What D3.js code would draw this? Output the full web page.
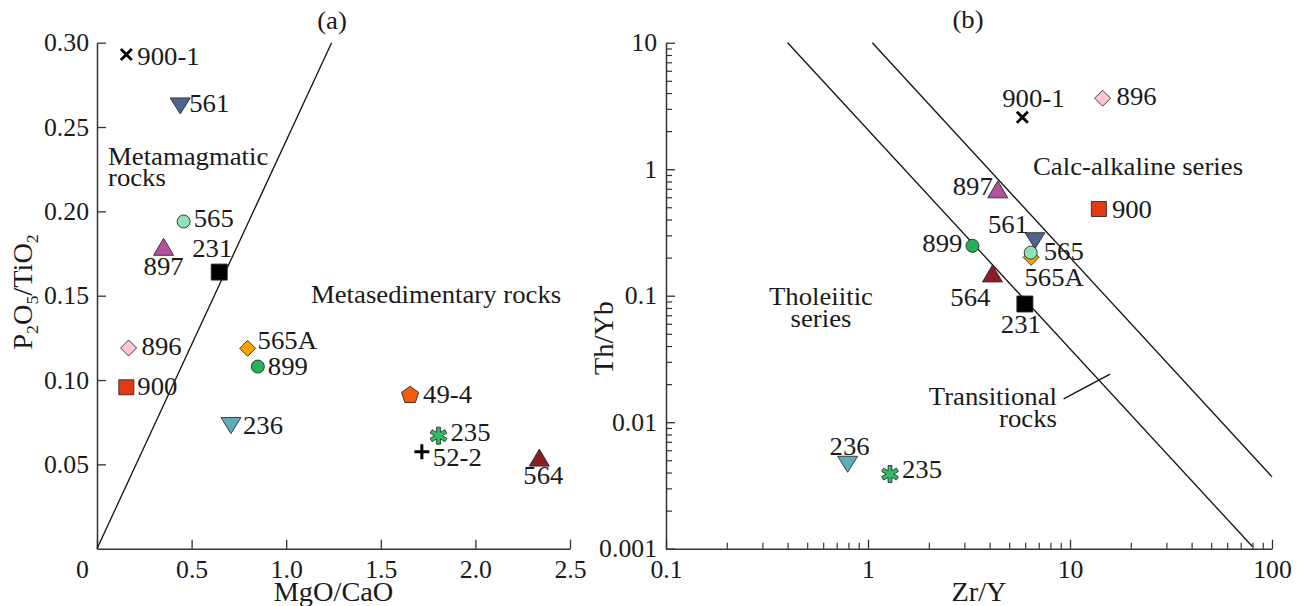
<!DOCTYPE html>
<html>
<head>
<meta charset="utf-8">
<script src="https://cdn.jsdelivr.net/npm/d3@7"></script>
<style>
  body { margin: 0; background: #fff; }
  svg { display: block; }
  text { font-family: "Liberation Serif", "Times New Roman", serif; fill: #1a1a1a; }
</style>
</head>
<body>
<svg id="chart" width="1299" height="606"></svg>
<script>
// ---- Samples and measured ratios ----
const samples  = ["900-1", "561", "565A", "565", "897", "231", "896", "900", "899", "236", "49-4", "235", "52-2", "564"];
// (a) MgO/CaO vs P2O5/TiO2
const mgoCao   = [0.155, 0.440, 0.796, 0.458, 0.352, 0.646, 0.167, 0.155, 0.850, 0.708, 1.655, 1.805, 1.717, 2.338];
const p2o5Tio2 = [0.293, 0.2625, 0.1188, 0.194, 0.179, 0.164, 0.119, 0.0957, 0.108, 0.073, 0.091, 0.067, 0.0575, 0.054];
// (b) Zr/Y vs Th/Yb (no data for 49-4 and 52-2)
const zrY      = [5.81, 6.71, 6.42, 6.39, 4.39, 5.98, 14.5, 13.9, 3.29, 0.793, null, 1.285, null, 4.13];
const thYb     = [2.57, 0.272, 0.201, 0.219, 0.693, 0.086, 3.64, 0.4845, 0.248, 0.00465, null, 0.00389, null, 0.150];

// Axis ticks
const xTicksA = [0, 0.5, 1.0, 1.5, 2.0, 2.5];
const xTickLabelsA = ["0", "0.5", "1.0", "1.5", "2.0", "2.5"];
const yTicksA = [0.05, 0.10, 0.15, 0.20, 0.25, 0.30];
const yTickLabelsA = ["0.05", "0.10", "0.15", "0.20", "0.25", "0.30"];
const xTicksB = [0.1, 1, 10, 100];
const xTickLabelsB = ["0.1", "1", "10", "100"];
const yTicksB = [0.001, 0.01, 0.1, 1, 10];
const yTickLabelsB = ["0.001", "0.01", "0.1", "1", "10"];

// Discrimination boundaries
const boundaryA  = [[0, 0], [1.24, 0.30]];
const boundaryB1 = [[0.40, 10], [80, 0.00104]];
const boundaryB2 = [[1.05, 10], [100, 0.0037]];
const transitionalLeader = [[9.3, 0.0153], [15.8, 0.024]];

// ---- Marker styling ----
const markerStyle = {
  "900-1": { shape: "times" },
  "561":   { shape: "triDown", fill: "#4f6590" },
  "565A":  { shape: "diamond", fill: "#f5a300" },
  "565":   { shape: "circle",  fill: "#8fe2b7" },
  "897":   { shape: "triUp",   fill: "#b3519c" },
  "231":   { shape: "square",  fill: "#000", size: 16 },
  "896":   { shape: "diamond", fill: "#ffc7d1" },
  "900":   { shape: "square",  fill: "#e23b10", size: 15 },
  "899":   { shape: "circle",  fill: "#20b35b" },
  "236":   { shape: "triDown", fill: "#5eaeba" },
  "49-4":  { shape: "pentagon", fill: "#f25c0a" },
  "235":   { shape: "asterisk", fill: "#2cc064" },
  "52-2":  { shape: "plus" },
  "564":   { shape: "triUp",   fill: "#8e1c25" }
};

// label placement: [anchor, dx, dy] relative to the marker centre
const labelPosA = {
  "900-1": ["start", 11, 11], "561": ["start", 9, 6], "565A": ["start", 10, 1],
  "565": ["start", 10, 6], "897": ["middle", 0, 28], "231": ["middle", -7, -15],
  "896": ["start", 13, 7], "900": ["start", 11, 8], "899": ["start", 10, 8],
  "236": ["start", 12, 8], "49-4": ["start", 13, 8], "235": ["start", 12, 5],
  "52-2": ["start", 11, 14], "564": ["middle", 4, 26]
};
const labelPosB = {
  "900-1": ["middle", 11, -10], "561": ["middle", -27, -8], "565A": ["middle", 23, 29],
  "565": ["start", 13, 7], "897": ["end", -5, 6], "231": ["middle", -4, 29],
  "896": ["start", 14, 7], "900": ["start", 13, 9], "899": ["end", -10, 6],
  "236": ["middle", 2, -9], "235": ["start", 12, 4], "564": ["middle", -22, 33]
};

function shapePath(st) {
  const p = d3.path();
  switch (st.shape) {
    case "square": { const h = st.size / 2; p.rect(-h, -h, st.size, st.size); break; }
    case "circle": p.arc(0, 0, 6.5, 0, 2 * Math.PI); break;
    case "diamond": p.moveTo(0, -8); p.lineTo(8, 0); p.lineTo(0, 8); p.lineTo(-8, 0); p.closePath(); break;
    case "triUp": p.moveTo(0, -8.5); p.lineTo(10, 8.5); p.lineTo(-10, 8.5); p.closePath(); break;
    case "triDown": p.moveTo(-10, -8); p.lineTo(10, -8); p.lineTo(0, 8); p.closePath(); break;
    case "pentagon":
      for (let k = 0; k < 5; k++) {
        const a = -Math.PI / 2 + k * 2 * Math.PI / 5;
        k ? p.lineTo(9 * Math.cos(a), 9 * Math.sin(a)) : p.moveTo(9 * Math.cos(a), 9 * Math.sin(a));
      }
      p.closePath(); break;
    case "asterisk": {
      const R = 8.5, w = 1.9, ri = 2 * w;
      for (let k = 0; k < 6; k++) {
        const t = -Math.PI / 2 + k * Math.PI / 3;
        const ti = t - Math.PI / 6;
        const c = Math.cos(t), s = Math.sin(t);
        const pts = [[ri * Math.cos(ti), ri * Math.sin(ti)],
                     [R * c + w * s, R * s - w * c],
                     [R * c - w * s, R * s + w * c]];
        pts.forEach((q, i) => (k === 0 && i === 0) ? p.moveTo(q[0], q[1]) : p.lineTo(q[0], q[1]));
      }
      p.closePath(); break;
    }
    case "times": p.moveTo(-5.5, -5.5); p.lineTo(5.5, 5.5); p.moveTo(5.5, -5.5); p.lineTo(-5.5, 5.5); break;
    case "plus": p.moveTo(-7.5, 0); p.lineTo(7.5, 0); p.moveTo(0, -7.5); p.lineTo(0, 7.5); break;
  }
  return p.toString();
}

const svg = d3.select("#chart");
const AX = "#333";
const FS = 25;                       // text size for ticks, sample and field labels
const TICK_SX = 1.03, LABEL_SX = 1.07, TITLE_SX = 1.05;

// ---- Scales ----
const xA = d3.scaleLinear().domain([0, 2.5]).range([97, 570]);
const yA = d3.scaleLinear().domain([0, 0.3]).range([548.7, 42.7]);
const xB = d3.scaleLog().domain([0.1, 100]).range([666, 1272]);
const yB = d3.scaleLog().domain([0.001, 10]).range([548.7, 42.7]);

function styleAxis(g) {
  g.select(".domain").attr("stroke", AX).attr("stroke-width", 1.5);
  g.selectAll(".tick line").attr("stroke", AX).attr("stroke-width", 1.3);
  g.selectAll(".tick text").attr("fill", "#1a1a1a").attr("font-size", FS)
    .attr("font-family", null).attr("data-sx", TICK_SX);
}

function minorLogTicks(domain) {
  const out = [];
  const e0 = Math.floor(Math.log10(domain[0])), e1 = Math.ceil(Math.log10(domain[1]));
  for (let e = e0; e < e1; e++) for (let k = 2; k <= 9; k++) out.push(k * Math.pow(10, e));
  return out;
}

// ---- Panel (a) axes ----
const gxA = svg.append("g").attr("transform", `translate(0,${yA(0)})`)
  .call(d3.axisBottom(xA).tickValues(xTicksA).tickFormat((d, i) => xTickLabelsA[i])
    .tickSizeInner(-9).tickSizeOuter(0).tickPadding(11.5));
styleAxis(gxA);
gxA.selectAll(".tick text").filter(d => d === 0).attr("x", -15);

const gyA = svg.append("g").attr("transform", `translate(${xA(0)},0)`)
  .call(d3.axisLeft(yA).tickValues(yTicksA).tickFormat((d, i) => yTickLabelsA[i])
    .tickSizeInner(-9).tickSizeOuter(0).tickPadding(8));
styleAxis(gyA);

// ---- Panel (b) axes ----
const gxB = svg.append("g").attr("transform", `translate(0,${yB(0.001)})`)
  .call(d3.axisBottom(xB).tickValues(xTicksB).tickFormat((d, i) => xTickLabelsB[i])
    .tickSizeInner(-9).tickSizeOuter(0).tickPadding(11.5));
styleAxis(gxB);
const gxBm = svg.append("g").attr("transform", `translate(0,${yB(0.001)})`)
  .call(d3.axisBottom(xB).tickValues(minorLogTicks(xB.domain())).tickFormat("")
    .tickSizeInner(-6).tickSizeOuter(0));
gxBm.select(".domain").remove();
gxBm.selectAll(".tick line").attr("stroke", AX).attr("stroke-width", 1.2);

const gyB = svg.append("g").attr("transform", `translate(${xB(0.1)},0)`)
  .call(d3.axisLeft(yB).tickValues(yTicksB).tickFormat((d, i) => yTickLabelsB[i])
    .tickSizeInner(-9).tickSizeOuter(0).tickPadding(9));
styleAxis(gyB);
const gyBm = svg.append("g").attr("transform", `translate(${xB(0.1)},0)`)
  .call(d3.axisLeft(yB).tickValues(minorLogTicks(yB.domain())).tickFormat("")
    .tickSizeInner(-6).tickSizeOuter(0));
gyBm.select(".domain").remove();
gyBm.selectAll(".tick line").attr("stroke", AX).attr("stroke-width", 1.2);

// ---- Boundary lines ----
const lineA = d3.line().x(d => xA(d[0])).y(d => yA(d[1]));
const lineB = d3.line().x(d => xB(d[0])).y(d => yB(d[1]));
svg.append("path").attr("d", lineA(boundaryA)).attr("fill", "none").attr("stroke", "#111").attr("stroke-width", 1.3);
[boundaryB1, boundaryB2, transitionalLeader].forEach(b =>
  svg.append("path").attr("d", lineB(b)).attr("fill", "none").attr("stroke", "#111").attr("stroke-width", 1.3));

// ---- Points ----
function drawPoints(xs, ys, xScale, yScale, labelPos) {
  const pts = samples.map((s, i) => ({ s, x: xs[i], y: ys[i] })).filter(d => d.x != null && d.y != null);
  const g = svg.append("g");
  pts.forEach(d => {
    const st = markerStyle[d.s];
    const cx = xScale(d.x), cy = yScale(d.y);
    const m = g.append("path").attr("d", shapePath(st)).attr("transform", `translate(${cx},${cy})`);
    if (st.shape === "times" || st.shape === "plus") {
      m.attr("fill", "none").attr("stroke", "#000").attr("stroke-width", st.shape === "plus" ? 3 : 2.8);
    } else {
      m.attr("fill", st.fill).attr("stroke", "#2a2a2a").attr("stroke-width", 0.9);
    }
    const lp = labelPos[d.s];
    g.append("text").attr("x", cx + lp[1]).attr("y", cy + lp[2]).attr("text-anchor", lp[0])
      .attr("font-size", FS).attr("data-sx", LABEL_SX).text(d.s);
  });
}
drawPoints(mgoCao, p2o5Tio2, xA, yA, labelPosA);
drawPoints(zrY, thYb, xB, yB, labelPosB);

// ---- Field and panel annotations (multi-line notes use tspans) ----
function note(x, y, lines, anchor, size, sx, lead) {
  const t = svg.append("text").attr("x", x).attr("y", y).attr("text-anchor", anchor || "start")
    .attr("font-size", size || FS).attr("data-sx", sx || LABEL_SX);
  const arr = Array.isArray(lines) ? lines : [lines];
  if (arr.length === 1) return t.text(arr[0]);
  arr.forEach((s, i) => t.append("tspan").attr("x", x).attr("dy", i ? (lead || 21) : 0).text(s));
  return t;
}
note(332, 29, "(a)", "middle");
note(968, 28, "(b)", "middle");
note(108, 165, ["Metamagmatic", "rocks"], "start", FS, LABEL_SX, 21);
note(311, 303, "Metasedimentary rocks");
note(1033, 175, "Calc-alkaline series");
note(821, 305, ["Tholeiitic", "series"], "middle", FS, LABEL_SX, 22);
note(1057, 405, ["Transitional", "rocks"], "end", FS, LABEL_SX, 22);

// ---- Axis titles ----
note(333.5, 601, "MgO/CaO", "middle", 27, TITLE_SX);
note(979, 601, "Zr/Y", "middle", 27, TITLE_SX);

const ytA = svg.append("text").attr("transform", "translate(32,292) rotate(-90)")
  .attr("text-anchor", "middle").attr("font-size", 27).attr("data-sx", TITLE_SX);
[["P", 0], ["2", 1], ["O", 0], ["5", 1], ["/TiO", 0], ["2", 1]].reduce((prev, [t, sub]) => {
  const ts = ytA.append("tspan").text(t).attr("font-size", sub ? 17 : 27);
  if (sub !== prev) ts.attr("dy", sub ? 6 : -6);
  return sub;
}, 0);

svg.append("text").attr("transform", "translate(613,338) rotate(-90)")
  .attr("text-anchor", "middle").attr("font-size", 27).attr("data-sx", TITLE_SX).text("Th/Yb");

// ---- Widen the serif face along its writing direction ----
svg.selectAll("text").each(function () {
  const t = d3.select(this);
  const s = +t.attr("data-sx") || 1;
  if (s === 1) return;
  const x = +t.attr("x") || 0;
  t.attr("x", x / s);
  t.selectAll("tspan").each(function () {
    const ts = d3.select(this);
    if (ts.attr("x") != null) ts.attr("x", +ts.attr("x") / s);
  });
  const tr = t.attr("transform") || "";
  t.attr("transform", (tr + ` scale(${s},1)`).trim());
});
</script>
</body>
</html>
